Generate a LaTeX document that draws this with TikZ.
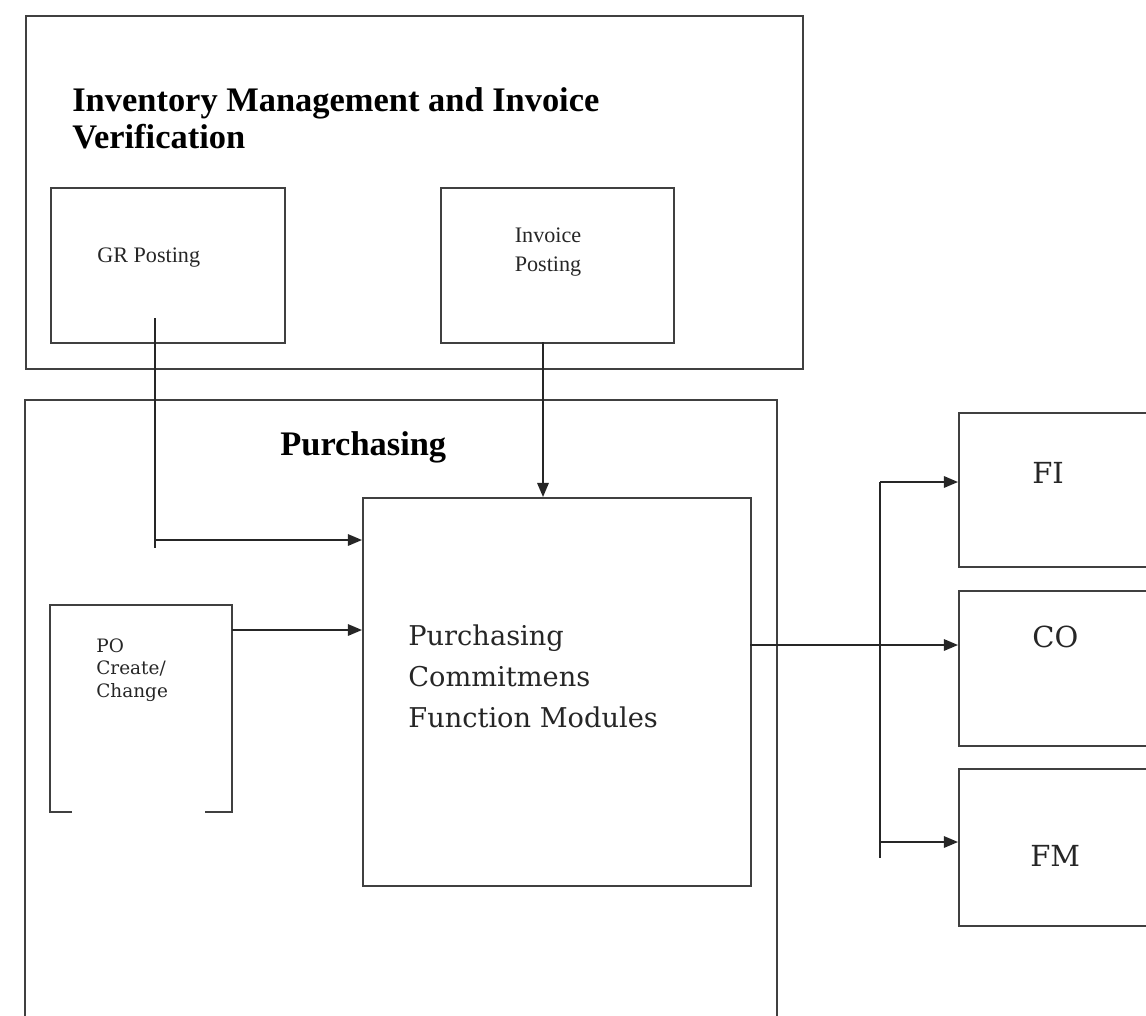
\documentclass[tikz,border=0pt]{standalone}
\usepackage{fontspec}
\setmainfont{Liberation Serif}
\newfontfamily\wideserif{DejaVu Serif}
\usetikzlibrary{arrows.meta}
\tikzset{
	box/.style={draw=black!75, line width=1.1pt, inner sep=0pt, anchor=north west},
	lnk/.style={draw=black!85, line width=1pt},
	arr/.style={lnk, -{Triangle[length=8pt,width=6.5pt]}},
	head/.style={font=\fontsize{19.6}{21}\selectfont\bfseries, inner sep=0pt, align=left},
	small/.style={font=\fontsize{12.6}{16.5}\selectfont, inner sep=0pt, text=black!85},
	big/.style={font=\wideserif\fontsize{15.5}{23.5}\selectfont, inner sep=0pt, align=left, text=black!85},
	tag/.style={font=\wideserif\fontsize{16.5}{20}\selectfont, inner sep=0pt, anchor=base west, text=black!85}
}
\begin{document}
\begin{tikzpicture}[x=0.02cm,y=-0.02cm]
		\useasboundingbox (0,0) rectangle (1146,1015);
		\clip (0,0) rectangle (1146,1015);
		% inventory management and invoice verification
		\node[box, minimum width=15.54cm, minimum height=7.06cm] (invbox) at (25,15) {};
		\node[head, anchor=north west] (invtitle) at (72,87) {Inventory Management and Invoice\\Verification};
		\node[box, minimum width=4.68cm, minimum height=3.1cm] (grbox) at (50,187) {};
		\node[small, anchor=base west] (grtext) at (97,262) {GR Posting};
		\node[box, minimum width=4.66cm, minimum height=3.1cm] (ivbox) at (440,187) {};
		\node[small, align=center] (ivtext) at (548,252) {Invoice\\Posting};
		% purchasing
		\draw[black!75, line width=1.1pt] (25,1030) -- (25,400) -- (777,400) -- (777,1030);
		\node[head, anchor=base west] (purtitle) at (280,455) {Purchasing};
		\node[box, minimum width=7.76cm, minimum height=7.76cm] (pcbox) at (362,497) {};
		\node[big, anchor=north west] (pctext) at (408,624) {Purchasing\\Commitmens\\Function Modules};
		\draw[black!75, line width=1.1pt] (72,812) -- (50,812) -- (50,605) -- (232,605) -- (232,812) -- (205,812);
		\coordinate (poout) at (232,630);
		\node[small, align=left, anchor=north west, font=\wideserif\fontsize{10.5}{12.8}\selectfont] (potext) at (96,638) {PO\\Create/\\Change};
		% fi, co, fm
		\node[box, minimum width=5cm, minimum height=3.08cm] (fibox) at (958,412) {};
		\node[box, minimum width=5cm, minimum height=3.1cm] (cobox) at (958,590) {};
		\node[box, minimum width=5cm, minimum height=3.14cm] (fmbox) at (958,768) {};
		\node[tag] (fitext) at (1032,483) {FI};
		\node[tag] (cotext) at (1032,647) {CO};
		\node[tag] (fmtext) at (1030,866) {FM};
		% connectors
		\coordinate (grout) at (155,318);
		\coordinate (grend) at (155,548);
		\coordinate (grin) at (362,540);
		\draw[lnk] (grout) -- (grend);
		\draw[arr] (grout |- grin) -- (grin);
		\coordinate (ivout) at (543,342);
		\draw[arr] (ivout) -- (ivout |- pcbox.north);
		\draw[arr] (poout) -- (poout -| pcbox.west);
		\coordinate (pcout) at (750,645);
		\draw[arr] (pcout) -- (pcout -| cobox.west);
		\coordinate (bustop) at (880,482);
		\coordinate (busbot) at (880,858);
		\coordinate (fmin) at (958,842);
		\draw[lnk] (bustop) -- (busbot);
		\draw[arr] (bustop) -- (bustop -| fibox.west);
		\draw[arr] (fmin -| bustop) -- (fmin);
  \end{tikzpicture}
\end{document}
